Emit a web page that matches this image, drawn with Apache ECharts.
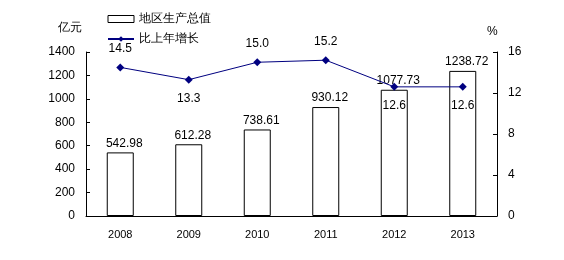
<!DOCTYPE html>
<html><head><meta charset="utf-8">
<script src="https://cdn.jsdelivr.net/npm/echarts@6/dist/echarts.min.js"></script>
<style>html,body{margin:0;padding:0;background:#fff}#c{width:564px;height:260px}</style>
</head><body><div id="c"></div>
<script>
const years = ['2008','2009','2010','2011','2012','2013'];
const gdp = [542.98, 612.28, 738.61, 930.12, 1077.73, 1238.72];
const growth = [14.5, 13.3, 15.0, 15.2, 12.6, 12.6];
const growthLabelPos = ['top','bottom','top','top','bottom','bottom'];
const leftTicks = [0, 1400, 200];
const rightTicks = [0, 16, 4];
const font = 'Liberation Sans, Arial, sans-serif';
const chart = echarts.init(document.getElementById('c'), null, {renderer:'canvas'});
chart.setOption({
  backgroundColor:'#fff',
  animation:false,
  textStyle:{fontFamily:font, color:'#000'},
  grid:{left:86, right:67, top:52, bottom:44},
  legend:{
    orient:'vertical', left:102, top:8, itemGap:8, itemWidth:26, itemHeight:7,
    textStyle:{fontSize:12, color:'#000', fontFamily:font},
    data:[{name:'地区生产总值', icon:'rect', itemStyle:{color:'#fff', borderColor:'#000', borderWidth:1}}, {name:'比上年增长'}]
  },
  graphic:[
    {type:'text', left:58, top:22, style:{text:'亿元', font:'12px '+font, fill:'#000'}},
    {type:'text', left:487, top:26, style:{text:'%', font:'12px '+font, fill:'#000'}}
  ],
  xAxis:{
    type:'category', data:years, boundaryGap:true,
    axisLine:{lineStyle:{color:'#000', width:1}},
    axisTick:{inside:true, length:4, lineStyle:{color:'#000'}},
    axisLabel:{color:'#000', fontSize:11, margin:13}
  },
  yAxis:[
    {type:'value', min:leftTicks[0], max:leftTicks[1], interval:leftTicks[2],
     axisLine:{show:true, lineStyle:{color:'#000'}},
     axisTick:{show:true, inside:true, length:4, lineStyle:{color:'#000'}},
     axisLabel:{color:'#000', fontSize:12, margin:11, formatter:v=>String(v)},
     splitLine:{show:false}},
    {type:'value', min:rightTicks[0], max:rightTicks[1], interval:rightTicks[2],
     axisLine:{show:true, lineStyle:{color:'#000'}},
     axisTick:{show:true, inside:true, length:4, lineStyle:{color:'#000'}},
     axisLabel:{color:'#000', fontSize:12, margin:11, formatter:v=>String(v)},
     splitLine:{show:false}}
  ],
  series:[
    {name:'地区生产总值', type:'bar', data:gdp, barWidth:27, yAxisIndex:0,
     itemStyle:{color:'#fff', borderColor:'#000', borderWidth:1},
     label:{show:true, position:'top', distance:3, offset:[4,0], color:'#000', fontSize:12, fontFamily:font}},
    {name:'比上年增长', type:'line', yAxisIndex:1, z:5,
     data: growth.map((v,i)=>({value:v, label:{position:growthLabelPos[i]}})),
     symbol:'diamond', symbolSize:8,
     lineStyle:{color:'#000080', width:1},
     itemStyle:{color:'#000080'},
     label:{show:true, distance:9, color:'#000', fontSize:12, fontFamily:font,
       formatter:p=>p.value.toFixed(1)}}
  ]
});
</script></body></html>
